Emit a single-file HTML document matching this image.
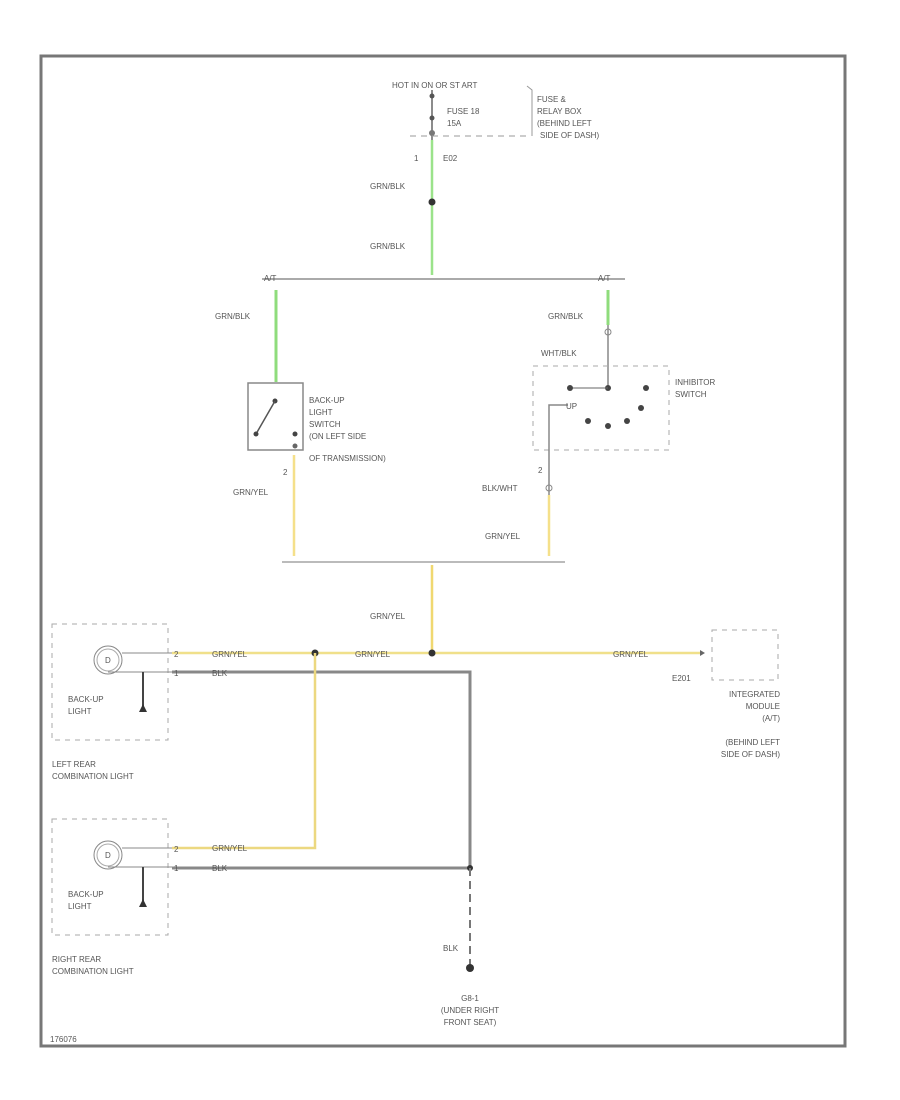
<!DOCTYPE html>
<html><head><style>body{margin:0;background:#fff}svg{display:block}text{font-family:"Liberation Sans",sans-serif;font-size:8px;fill:#555}</style></head><body>
<svg width="900" height="1100" viewBox="0 0 900 1100">
<rect x="41" y="56" width="804" height="990" fill="none" stroke="#777" stroke-width="3"/>
<!-- top fuse -->
<text x="392" y="88">HOT IN ON OR ST ART</text>
<line x1="432" y1="90" x2="432" y2="140" stroke="#666" stroke-width="1.5"/>
<circle cx="432" cy="96" r="2.5" fill="#555"/><circle cx="432" cy="118" r="2.5" fill="#555"/><circle cx="432" cy="133" r="3" fill="#777"/>
<line x1="410" y1="136" x2="530" y2="136" stroke="#999" stroke-dasharray="6,5"/>
<polyline points="527,86 532,90 532,136" fill="none" stroke="#999"/>
<text x="447" y="114">FUSE 18</text><text x="447" y="126">15A</text>
<text x="537" y="102">FUSE &amp;</text><text x="537" y="114">RELAY BOX</text><text x="537" y="126">(BEHIND LEFT</text><text x="540" y="138">SIDE OF DASH)</text>
<text x="414" y="161">1</text><text x="443" y="161">E02</text>
<line x1="432" y1="140" x2="432" y2="275" stroke="#9be38a" stroke-width="2.5"/>
<circle cx="432" cy="202" r="3.5" fill="#333"/>
<text x="370" y="189">GRN/BLK</text><text x="370" y="249">GRN/BLK</text>
<line x1="262" y1="279" x2="625" y2="279" stroke="#aaa" stroke-width="2"/>
<text x="264" y="281">A/T</text><text x="598" y="281">A/T</text>
<!-- left switch -->
<line x1="276" y1="290" x2="276" y2="382" stroke="#8fdc7c" stroke-width="3"/>
<text x="215" y="319">GRN/BLK</text>
<rect x="248" y="383" width="55" height="67" fill="none" stroke="#888" stroke-width="1.5"/>
<circle cx="275" cy="401" r="2.5" fill="#444"/><line x1="275" y1="401" x2="256" y2="434" stroke="#555" stroke-width="1.5"/><circle cx="256" cy="434" r="2.5" fill="#444"/>
<circle cx="295" cy="434" r="2.5" fill="#444"/><circle cx="295" cy="446" r="2.5" fill="#666"/>
<text x="309" y="403">BACK-UP</text><text x="309" y="415">LIGHT</text><text x="309" y="427">SWITCH</text><text x="309" y="439">(ON LEFT SIDE</text><text x="309" y="461">OF TRANSMISSION)</text>
<line x1="294" y1="455" x2="294" y2="556" stroke="#f5e08a" stroke-width="2.5"/>
<text x="283" y="475">2</text><text x="233" y="495">GRN/YEL</text>
<!-- inhibitor -->
<line x1="608" y1="290" x2="608" y2="325" stroke="#8fdc7c" stroke-width="3"/>
<text x="548" y="319">GRN/BLK</text>
<line x1="608" y1="325" x2="608" y2="388" stroke="#888" stroke-width="1.5"/>
<circle cx="608" cy="332" r="3" fill="none" stroke="#888"/>
<text x="541" y="356">WHT/BLK</text>
<rect x="533" y="366" width="136" height="84" fill="none" stroke="#aaa" stroke-dasharray="5,5"/>
<circle cx="608" cy="388" r="3" fill="#444"/><line x1="570" y1="388" x2="608" y2="388" stroke="#666"/><circle cx="570" cy="388" r="3" fill="#444"/>
<circle cx="646" cy="388" r="3" fill="#444"/><circle cx="641" cy="408" r="3" fill="#444"/>
<circle cx="588" cy="421" r="3" fill="#444"/><circle cx="608" cy="426" r="3" fill="#444"/><circle cx="627" cy="421" r="3" fill="#444"/>
<polyline points="549,450 549,405 568,405" fill="none" stroke="#888" stroke-width="1.5"/><text x="566" y="409">UP</text>
<text x="675" y="385">INHIBITOR</text><text x="675" y="397">SWITCH</text>
<line x1="549" y1="450" x2="549" y2="495" stroke="#888" stroke-width="1.5"/>
<text x="538" y="473">2</text><text x="482" y="491">BLK/WHT</text><circle cx="549" cy="488" r="3" fill="none" stroke="#888"/>
<line x1="549" y1="495" x2="549" y2="556" stroke="#f5e08a" stroke-width="2.5"/>
<text x="485" y="539">GRN/YEL</text>
<line x1="282" y1="562" x2="565" y2="562" stroke="#bbb" stroke-width="2"/>
<line x1="432" y1="565" x2="432" y2="653" stroke="#f0d870" stroke-width="2.5"/>
<text x="370" y="619">GRN/YEL</text>
<!-- main lines -->
<line x1="172" y1="653" x2="700" y2="653" stroke="#f0e08a" stroke-width="2.5"/>
<circle cx="315" cy="653" r="3.5" fill="#333"/><circle cx="432" cy="653" r="3.5" fill="#333"/>
<text x="212" y="657">GRN/YEL</text><text x="355" y="657">GRN/YEL</text><text x="613" y="657">GRN/YEL</text>
<polygon points="700,650 705,653 700,656" fill="#666"/>
<text x="672" y="681">E201</text>
<rect x="712" y="630" width="66" height="50" fill="none" stroke="#aaa" stroke-dasharray="5,5"/>
<g text-anchor="end"><text x="780" y="697">INTEGRATED</text><text x="780" y="709">MODULE</text><text x="780" y="721">(A/T)</text><text x="780" y="745">(BEHIND LEFT</text><text x="780" y="757">SIDE OF DASH)</text></g>
<polyline points="172,672 470,672 470,868" fill="none" stroke="#888" stroke-width="3"/>
<text x="212" y="676">BLK</text>
<polyline points="315,653 315,848 172,848" fill="none" stroke="#ecd880" stroke-width="2.5"/>
<text x="212" y="851">GRN/YEL</text>
<line x1="172" y1="868" x2="470" y2="868" stroke="#888" stroke-width="3"/>
<text x="212" y="871">BLK</text>
<circle cx="470" cy="868" r="3" fill="#333"/>
<line x1="470" y1="868" x2="470" y2="968" stroke="#777" stroke-width="2" stroke-dasharray="8,5"/>
<circle cx="470" cy="968" r="4" fill="#333"/>
<text x="443" y="951">BLK</text>
<g text-anchor="middle"><text x="470" y="1001">G8-1</text><text x="470" y="1013">(UNDER RIGHT</text><text x="470" y="1025">FRONT SEAT)</text></g>
<!-- lamps -->
<g id="l1">
<rect x="52" y="624" width="116" height="116" fill="none" stroke="#aaa" stroke-dasharray="5,5"/>
<circle cx="108" cy="660" r="14" fill="none" stroke="#888"/><circle cx="108" cy="660" r="11" fill="none" stroke="#aaa"/>
<text x="105" y="663">D</text>
<line x1="122" y1="653" x2="172" y2="653" stroke="#888"/><line x1="108" y1="672" x2="172" y2="672" stroke="#888"/>
<line x1="143" y1="672" x2="143" y2="708" stroke="#444" stroke-width="2"/><polygon points="139,712 147,712 143,704" fill="#333"/>
<text x="174" y="657">2</text><text x="174" y="676">1</text>
<text x="68" y="702">BACK-UP</text><text x="68" y="714">LIGHT</text>
</g>
<use href="#l1" y="195"/>
<text x="52" y="767">LEFT REAR</text><text x="52" y="779">COMBINATION LIGHT</text>
<text x="52" y="962">RIGHT REAR</text><text x="52" y="974">COMBINATION LIGHT</text>
<text x="50" y="1042">176076</text>
</svg>
</body></html>
